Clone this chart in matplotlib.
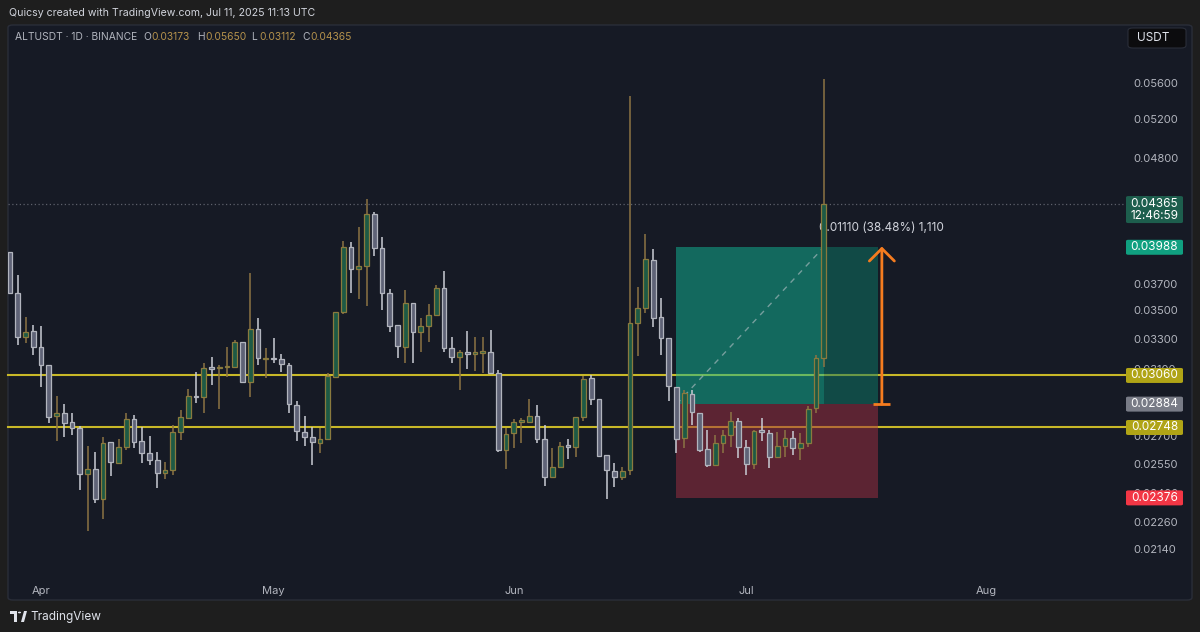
import matplotlib
matplotlib.use('Agg')
import matplotlib.pyplot as plt
import matplotlib.dates as mdates
import matplotlib.transforms as mtrans
from matplotlib.patches import Rectangle, FancyBboxPatch, Circle, Polygon
from matplotlib.ticker import NullLocator, NullFormatter
import numpy as np
import pandas as pd

plt.rcParams['font.family'] = ['Inter', 'DejaVu Sans']

# ---------------- data ----------------
start_date = '2025-03-28'
opens = [0.03950, 0.03629, 0.03316, 0.03355, 0.03244, 0.03128, 0.02814, 0.02834, 0.02778, 0.02744,
         0.02495, 0.02522, 0.02369, 0.02666, 0.02556, 0.02642, 0.02795, 0.02674, 0.02606, 0.02570,
         0.02500, 0.02517, 0.02721, 0.02805, 0.02935, 0.02925, 0.03112, 0.03106, 0.03112, 0.03112,
         0.03278, 0.03021, 0.03367, 0.03165, 0.03175, 0.03167, 0.03128, 0.02880, 0.02724, 0.02696,
         0.02664, 0.02682, 0.03053, 0.03491, 0.03988, 0.03811, 0.03839, 0.04272, 0.03980, 0.03627,
         0.03397, 0.03248, 0.03553, 0.03350, 0.03390, 0.03467, 0.03668, 0.03237, 0.03182, 0.03211,
         0.03200, 0.03207, 0.03211, 0.03078, 0.02624, 0.02716, 0.02782, 0.02782, 0.02814, 0.02682,
         0.02483, 0.02535, 0.02651, 0.02642, 0.02810, 0.03045, 0.02913, 0.02594, 0.02513, 0.02480,
         0.02517, 0.03409, 0.03515, 0.03885, 0.03451, 0.03309, 0.02989, 0.02688, 0.02944, 0.02830,
         0.02628, 0.02544, 0.02660, 0.02706, 0.02785, 0.02642, 0.02549, 0.02734, 0.02716, 0.02588,
         0.02647, 0.02688, 0.02633, 0.02664, 0.02860, 0.03173]
highs = [0.03950, 0.03766, 0.03455, 0.03397, 0.03390, 0.03128, 0.02933, 0.02885, 0.02834, 0.02757,
         0.02646, 0.02610, 0.02696, 0.02667, 0.02684, 0.02832, 0.02820, 0.02751, 0.02702, 0.02610,
         0.02561, 0.02762, 0.02850, 0.02976, 0.03084, 0.03140, 0.03182, 0.03128, 0.03248, 0.03293,
         0.03280, 0.03779, 0.03448, 0.03237, 0.03305, 0.03200, 0.03142, 0.02905, 0.02814, 0.02753,
         0.02744, 0.03076, 0.03487, 0.04041, 0.04030, 0.04162, 0.04404, 0.04287, 0.04074, 0.03659,
         0.03397, 0.03651, 0.03553, 0.03444, 0.03545, 0.03689, 0.03797, 0.03311, 0.03226, 0.03355,
         0.03316, 0.03311, 0.03362, 0.03095, 0.02744, 0.02795, 0.02801, 0.02913, 0.02880, 0.02762,
         0.02633, 0.02669, 0.02682, 0.02810, 0.03057, 0.03064, 0.02913, 0.02597, 0.02552, 0.02535,
         0.05456, 0.03671, 0.04097, 0.03972, 0.03590, 0.03309, 0.02989, 0.02970, 0.02970, 0.02830,
         0.02734, 0.02706, 0.02734, 0.02840, 0.02801, 0.02678, 0.02734, 0.02805, 0.02734, 0.02721,
         0.02734, 0.02730, 0.02716, 0.02870, 0.03193, 0.05650]
lows = [0.03629, 0.03260, 0.03271, 0.03193, 0.02989, 0.02776, 0.02674, 0.02696, 0.02706, 0.02415,
        0.02219, 0.02353, 0.02273, 0.02486, 0.02554, 0.02624, 0.02635, 0.02554, 0.02544, 0.02427,
        0.02470, 0.02491, 0.02678, 0.02797, 0.02893, 0.02831, 0.03001, 0.02854, 0.03053, 0.03108,
        0.03018, 0.02925, 0.03128, 0.03043, 0.03138, 0.03084, 0.02834, 0.02674, 0.02646, 0.02544,
        0.02606, 0.02678, 0.03049, 0.03474, 0.03631, 0.03582, 0.03532, 0.03917, 0.03503, 0.03350,
        0.03171, 0.03138, 0.03138, 0.03215, 0.03282, 0.03467, 0.03215, 0.03138, 0.02970, 0.03100,
        0.03089, 0.03074, 0.03070, 0.02615, 0.02521, 0.02633, 0.02664, 0.02782, 0.02664, 0.02435,
        0.02475, 0.02526, 0.02574, 0.02588, 0.02787, 0.02880, 0.02583, 0.02369, 0.02429, 0.02466,
        0.02491, 0.03186, 0.03480, 0.03384, 0.03193, 0.02905, 0.02606, 0.02633, 0.02762, 0.02612,
        0.02535, 0.02544, 0.02606, 0.02642, 0.02580, 0.02491, 0.02521, 0.02674, 0.02526, 0.02580,
        0.02588, 0.02597, 0.02570, 0.02642, 0.02830, 0.03112]
closes = [0.03629, 0.03314, 0.03350, 0.03244, 0.03128, 0.02810, 0.02832, 0.02776, 0.02744, 0.02495,
          0.02524, 0.02369, 0.02660, 0.02558, 0.02642, 0.02795, 0.02669, 0.02606, 0.02570, 0.02503,
          0.02517, 0.02724, 0.02810, 0.02935, 0.02929, 0.03106, 0.03103, 0.03116, 0.03121, 0.03278,
          0.03018, 0.03367, 0.03171, 0.03175, 0.03165, 0.03132, 0.02884, 0.02730, 0.02696, 0.02666,
          0.02682, 0.03057, 0.03487, 0.03993, 0.03813, 0.03837, 0.04272, 0.03980, 0.03627, 0.03392,
          0.03253, 0.03553, 0.03350, 0.03390, 0.03467, 0.03668, 0.03241, 0.03182, 0.03211, 0.03200,
          0.03211, 0.03216, 0.03078, 0.02624, 0.02710, 0.02778, 0.02791, 0.02816, 0.02682, 0.02483,
          0.02535, 0.02647, 0.02642, 0.02807, 0.03038, 0.02913, 0.02592, 0.02517, 0.02480, 0.02513,
          0.03409, 0.03515, 0.03891, 0.03448, 0.03309, 0.02991, 0.02684, 0.02950, 0.02836, 0.02624,
          0.02544, 0.02660, 0.02706, 0.02785, 0.02642, 0.02549, 0.02728, 0.02721, 0.02588, 0.02647,
          0.02688, 0.02633, 0.02660, 0.02856, 0.03171, 0.04365]

level_lines = [0.03060, 0.02748]
entry_price = 0.02884
target_price = 0.03988
stop_price = 0.02376
position_start = '2025-06-22'
position_end = '2025-07-18'
range_change = 0.01110
range_text = '0.01110 (38.48%) 1,110'
last_price = 0.04365
countdown = '12:46:59'

ytick_values = [0.0214, 0.0226, 0.0240, 0.0255, 0.0270, 0.0310, 0.0330, 0.0350,
                0.0370, 0.0440, 0.0480, 0.0520, 0.0560]
month_ticks = ['2025-04-01', '2025-05-01', '2025-06-01', '2025-07-01', '2025-08-01']
month_labels = ['Apr', 'May', 'Jun', 'Jul', 'Aug']

# ---------------- styling ----------------
W, H = 1200, 632
BG_OUT = '#1e1e1e'
BG = '#161a25'
TXT = '#b2b5be'
BULL_FILL, BULL_EDGE, BULL_WICK = '#1d5a45', '#8a7a3e', '#8c7444'
BEAR_FILL, BEAR_EDGE, BEAR_WICK = '#5f6377', '#b2b5be', '#c9ccd4'
YELLOW = '#c8b828'
ORANGE = '#f57c1f'

fig = plt.figure(figsize=(W / 100, H / 100), dpi=100, facecolor=BG_OUT)

panel = FancyBboxPatch((8 / W, 1 - 600 / H), (1192 - 8) / W, (600 - 25) / H,
                       boxstyle='round,pad=0,rounding_size=0.004', transform=fig.transFigure,
                       facecolor=BG, edgecolor='#2a2e39', lw=1, zorder=-5)
fig.patches.append(panel)

ax = fig.add_axes([8 / W, 1 - 575 / H, 1110 / W, 548 / H])
ax.set_facecolor('none')
for s in ax.spines.values():
    s.set_visible(False)

dates = pd.date_range(start_date, periods=len(opens), freq='D')
xd = mdates.date2num(dates)
o = np.array(opens); h = np.array(highs); l = np.array(lows); c = np.array(closes)
bull = c >= o

ax.set_yscale('log')
ax.set_ylim(0.02026, 0.06287)
ax.set_xlim(xd[0] - 0.26, xd[0] + 142.97)

# level lines (extend slightly into the price scale)
blend = mtrans.blended_transform_factory(ax.transAxes, ax.transData)
for lv in level_lines:
    ax.plot([0, 1.008], [lv, lv], transform=blend, color=YELLOW, lw=1.5, zorder=1, clip_on=False)
ax.plot([0, 1.008], [last_price, last_price], transform=blend, color='#5d606b', lw=0.9,
        ls=(0, (1, 2)), zorder=1, clip_on=False)

# position tool
ps = mdates.date2num(pd.Timestamp(position_start))
pe = mdates.date2num(pd.Timestamp(position_end))
last_x = xd[-1]
ax.add_patch(Rectangle((ps, entry_price), last_x - ps, target_price - entry_price,
                       facecolor='#12b897', alpha=0.5, lw=0, zorder=2))
ax.add_patch(Rectangle((last_x, entry_price), pe - last_x, target_price - entry_price,
                       facecolor='#0e7a67', alpha=0.5, lw=0, zorder=2))
ax.add_patch(Rectangle((ps, stop_price), pe - ps, entry_price - stop_price,
                       facecolor='#a22e41', alpha=0.5, lw=0, zorder=2))
ax.plot([ps, last_x], [entry_price, target_price], ls=(0, (4, 4)), color='#c8cbd2',
        alpha=0.55, lw=1, zorder=2.5)

# price range arrow
arr_x = pe + 0.5
top = entry_price + range_change
ax.annotate('', xy=(arr_x, top), xytext=(arr_x, entry_price),
            arrowprops=dict(arrowstyle='->,head_length=0.45,head_width=0.45', color=ORANGE, lw=2,
                            shrinkA=0, shrinkB=0, mutation_scale=20), zorder=4)
ax.plot([arr_x - 1.1, arr_x + 1.1], [entry_price, entry_price], color=ORANGE, lw=2, zorder=4,
        solid_capstyle='butt')
ax.annotate(range_text, xy=(arr_x, top), xytext=(0, 13), textcoords='offset points',
            ha='center', va='center', color='#d1d4dc', fontsize=8.5, zorder=2.6)

# candles
wick_cols = np.where(bull, BULL_WICK, BEAR_WICK)
ax.vlines(xd, l, h, colors=wick_cols, lw=1.1, zorder=3)
bottoms = np.minimum(o, c)
heights = np.maximum(np.abs(c - o), 1e-6)
ax.bar(xd, heights, bottom=bottoms, width=0.62,
       color=np.where(bull, BULL_FILL, BEAR_FILL),
       edgecolor=np.where(bull, BULL_EDGE, BEAR_EDGE), linewidth=0.9, zorder=3.5)

# axes ticks
ax.yaxis.tick_right()
ax.set_yticks(ytick_values)
ax.set_yticklabels([f'{v:.5f}' for v in ytick_values])
ax.yaxis.set_minor_locator(NullLocator())
ax.yaxis.set_minor_formatter(NullFormatter())
ax.tick_params(axis='y', length=0, pad=11, labelsize=8, labelcolor=TXT)
ax.set_xticks(mdates.date2num(pd.to_datetime(month_ticks)))
ax.set_xticklabels(month_labels)
ax.tick_params(axis='x', length=0, pad=8, labelsize=8, labelcolor=TXT)

# price scale labels
fig.canvas.draw()


def ypix(price):
    return ax.transData.transform((xd[0], price))[1]


def price_tag(price, text, color, tcolor='white', lines=1):
    yc = ypix(price)
    hpx = 15 if lines == 1 else 27
    y0 = yc - 7.5 if lines == 1 else yc - 19.5
    box = FancyBboxPatch((1126 / W, y0 / H), 57 / W, hpx / H,
                         boxstyle='round,pad=0,rounding_size=0.002', transform=fig.transFigure,
                         facecolor=color, edgecolor='none', zorder=5)
    fig.patches.append(box)
    if lines == 1:
        fig.text(1154.5 / W, yc / H, text, ha='center', va='center', color=tcolor,
                 fontsize=8.5, zorder=6)
    else:
        t1, t2 = text
        fig.text(1154.5 / W, yc / H, t1, ha='center', va='center', color=tcolor, fontsize=8.5, zorder=6)
        fig.text(1154.5 / W, (yc - 12) / H, t2, ha='center', va='center', color=tcolor, fontsize=8.5, zorder=6)


price_tag(last_price, (f'{last_price:.5f}', countdown), '#1d5e4d', lines=2)
price_tag(target_price, f'{target_price:.5f}', '#10a080')
price_tag(level_lines[0], f'{level_lines[0]:.5f}', '#b0a416')
price_tag(entry_price, f'{entry_price:.5f}', '#787b86')
price_tag(level_lines[1], f'{level_lines[1]:.5f}', '#b0a416')
price_tag(stop_price, f'{stop_price:.5f}', '#f23645')

# USDT box
ub = FancyBboxPatch((1128 / W, 1 - 48 / H), 58 / W, 20 / H, boxstyle='round,pad=0,rounding_size=0.004',
                    transform=fig.transFigure, facecolor='#0c0c0e', edgecolor='#2a2e39', lw=0.8, zorder=5)
fig.patches.append(ub)
fig.text(1137 / W, 1 - 38 / H, 'USDT', ha='left', va='center', color='#e0e3eb', fontsize=8.5, zorder=6)

# header
fig.text(9 / W, 1 - 13 / H, 'Quicsy created with TradingView.com, Jul 11, 2025 11:13 UTC',
         ha='left', va='center', color='#d1d4dc', fontsize=7.6)

# legend
OHLC_COL = '#b5924c'
leg_y = 1 - 37 / H
fig.text(15 / W, leg_y, 'ALTUSDT · 1D · BINANCE', ha='left', va='center', color=TXT, fontsize=7.4)
legend_items = [('O', opens[-1], 143), ('H', highs[-1], 197), ('L', lows[-1], 251), ('C', closes[-1], 302)]
for lab, val, xp in legend_items:
    fig.text(xp / W, leg_y, lab, ha='left', va='center', color=TXT, fontsize=7.4)
    fig.text((xp + 8.5) / W, leg_y, f'{val:.5f}', ha='left', va='center', color=OHLC_COL, fontsize=7.4)

# footer logo
fig.patches.append(Rectangle((10 / W, 1 - 614 / H), 7 / W, 3 / H, transform=fig.transFigure,
                             facecolor='#e0e3eb', lw=0))
fig.patches.append(Rectangle((14 / W, 1 - 622 / H), 3 / W, 8 / H, transform=fig.transFigure,
                             facecolor='#e0e3eb', lw=0))
fig.patches.append(Circle((19.5 / W, 1 - 612.5 / H), 1.6 / W, transform=fig.transFigure,
                          facecolor='#e0e3eb', lw=0))
fig.patches.append(Polygon([(21 / W, 1 - 622 / H), (24 / W, 1 - 611 / H), (27 / W, 1 - 611 / H),
                            (24 / W, 1 - 622 / H)], closed=True, transform=fig.transFigure,
                           facecolor='#e0e3eb', lw=0))
fig.text(30 / W, 1 - 617 / H, 'TradingView', ha='left', va='center', color='#e0e3eb', fontsize=8.5)

fig.savefig('out.png', dpi=100, facecolor=BG_OUT)
